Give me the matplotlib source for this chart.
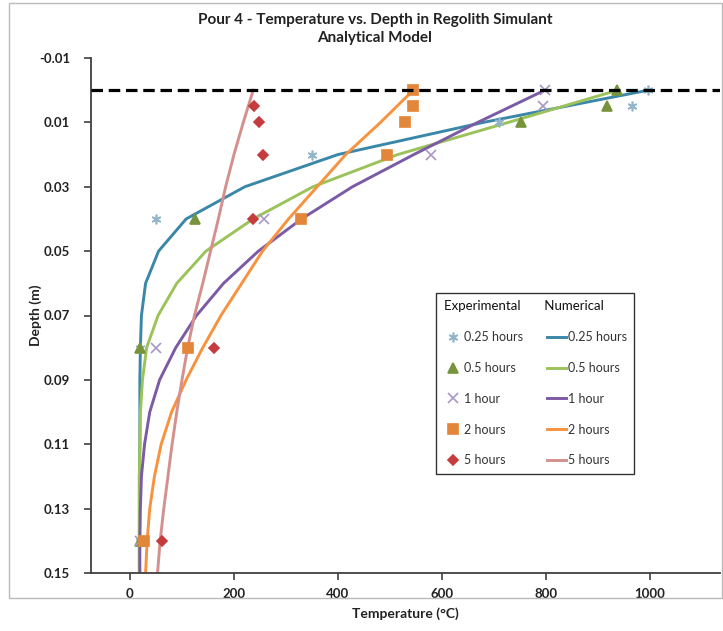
import matplotlib
matplotlib.use("Agg")
import matplotlib.pyplot as plt
from matplotlib.patches import Rectangle

plt.rcParams['font.family'] = ['Lato', 'DejaVu Sans']

# ---------------- data ----------------
depth_num = [0.00, 0.01, 0.02, 0.03, 0.04, 0.05, 0.06, 0.07, 0.08, 0.09,
             0.10, 0.11, 0.12, 0.13, 0.14, 0.15]
num_025h = [997, 680, 400, 221, 108, 55, 30, 22, 20, 19, 19, 19, 18, 18, 18, 18]
num_05h = [938, 728, 515, 352, 237, 146, 90, 54, 32, 24, 20, 19, 18, 18, 18, 18]
num_1h = [798, 669, 546, 428, 330, 247, 180, 128, 88, 57, 38, 28, 22, 20, 19, 19]
num_2h = [545, 482, 415, 360, 305, 255, 215, 175, 140, 108, 80, 60, 47, 38, 33, 30]
num_5h = [237, 218, 200, 184, 170, 155, 140, 124, 111, 100, 90, 81, 73, 65, 58, 53]

exp_025h_T = [997, 966, 710, 351, 50, 20, 20]
exp_025h_d = [0.00, 0.005, 0.01, 0.02, 0.04, 0.08, 0.14]
exp_05h_T = [936, 917, 752, 126, 20, 20]
exp_05h_d = [0.00, 0.005, 0.01, 0.04, 0.08, 0.14]
exp_1h_T = [798, 794, 579, 258, 50, 20]
exp_1h_d = [0.00, 0.005, 0.02, 0.04, 0.08, 0.14]
exp_2h_T = [545, 545, 529, 494, 329, 112, 26]
exp_2h_d = [0.00, 0.005, 0.01, 0.02, 0.04, 0.08, 0.14]
exp_5h_T = [238, 248, 256, 237, 162, 62]
exp_5h_d = [0.005, 0.01, 0.02, 0.04, 0.08, 0.14]

labels = ['0.25 hours', '0.5 hours', '1 hour', '2 hours', '5 hours']
surface_depth = 0.0
y_ticks = [-0.01, 0.01, 0.03, 0.05, 0.07, 0.09, 0.11, 0.13, 0.15]
x_ticks = [0, 200, 400, 600, 800, 1000]

line_colors = ['#3a87a8', '#9bc35a', '#7b5aa6', '#f7923f', '#d4908e']
exp_colors = ['#93b5c9', '#77943d', '#a797c6', '#e3863a', '#c43c3e']
exp_markers = [(6, 2, 0), '^', 'x', 's', 'D']
exp_sizes = [7, 6.5, 7, 6.5, 5]

# ---------------- figure ----------------
fig = plt.figure(figsize=(7.23, 6.31), dpi=100)
ax = fig.add_axes([91 / 723, 1 - 573 / 631, (720 - 91) / 723, (573 - 58) / 631])

num_series = [num_025h, num_05h, num_1h, num_2h, num_5h]
exp_series = [(exp_025h_T, exp_025h_d), (exp_05h_T, exp_05h_d), (exp_1h_T, exp_1h_d),
              (exp_2h_T, exp_2h_d), (exp_5h_T, exp_5h_d)]

exp_handles = []
num_handles = []
for i in range(5):
    T, d = exp_series[i]
    h, = ax.plot(T, d, linestyle='none', marker=exp_markers[i], color=exp_colors[i],
                 markersize=exp_sizes[i], markeredgewidth=1.2, label=labels[i], zorder=3)
    exp_handles.append(h)
for i in range(5):
    h, = ax.plot(num_series[i], depth_num, color=line_colors[i], lw=2.1,
                 label=labels[i], zorder=2)
    num_handles.append(h)

ax.axhline(surface_depth, color='black', lw=2.3, linestyle=(0, (3.6, 1.8)), zorder=4)

ax.set_xlim(-75, 1135)
ax.set_ylim(0.15, -0.01)
ax.set_xticks(x_ticks)
ax.set_yticks(y_ticks)
ax.set_yticklabels([f'{v:.2f}' for v in y_ticks])
for s in ['top', 'right']:
    ax.spines[s].set_visible(False)
for s in ['left', 'bottom']:
    ax.spines[s].set_color('#404040')
    ax.spines[s].set_linewidth(1.3)
ax.tick_params(axis='both', direction='out', length=5, width=1.2, color='#404040',
               labelsize=9.5, labelcolor='#222222')
ax.tick_params(axis='y', pad=10)
ax.tick_params(axis='x', pad=6)
for lab in ax.get_xticklabels() + ax.get_yticklabels():
    lab.set_fontweight('bold')

ax.set_xlabel('Temperature (°C)', fontsize=10, fontweight='bold', color='#222222', labelpad=5)
ax.set_ylabel('Depth (m)', fontsize=10, fontweight='bold', color='#222222', labelpad=-2)

fig.text(375 / 723, 1 - 20 / 631, 'Pour 4 - Temperature vs. Depth in Regolith Simulant',
         ha='center', va='center', fontsize=11, fontweight='bold', color='#222222')
fig.text(375 / 723, 1 - 38 / 631, 'Analytical Model',
         ha='center', va='center', fontsize=11, fontweight='bold', color='#222222')

# chart-area border
fig.patches.append(Rectangle((9 / 723, 1 - 598 / 631), (722 - 9) / 723, (598 - 3) / 631,
                             transform=fig.transFigure, fill=False, edgecolor='#bbbbbb',
                             lw=1.0))

leg = ax.legend(exp_handles + num_handles, labels + labels, ncol=2,
                loc='upper left', bbox_to_anchor=(436 / 723, 1 - 293 / 631),
                bbox_transform=fig.transFigure, borderaxespad=0,
                title='Experimental       Numerical', alignment='left',
                title_fontsize=9.5, fontsize=9, frameon=True, fancybox=False,
                edgecolor='black', handlelength=1.5, handletextpad=0.15,
                columnspacing=1.9, labelspacing=1.5, borderpad=0.6)
leg.get_frame().set_linewidth(1.0)
leg._legend_title_box._text.set_color('#111111')
for t in leg.get_texts():
    t.set_color('#333333')

fig.savefig('out.png', dpi=100, facecolor='white')
